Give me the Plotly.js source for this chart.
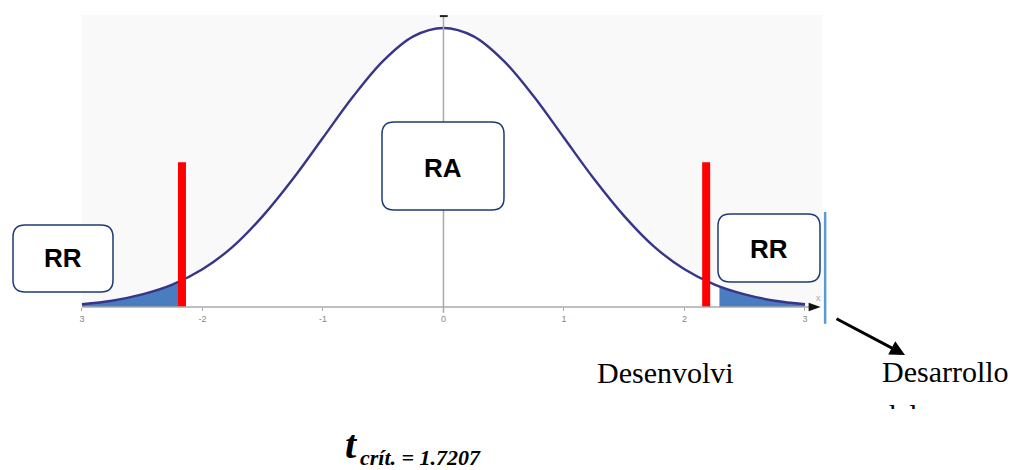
<!DOCTYPE html>
<html>
<head>
<meta charset="utf-8">
<script src="https://cdn.plot.ly/plotly-3.0.1.min.js"></script>
<style>html,body{margin:0;padding:0;background:#fff}#chart{width:1016px;height:470px}</style>
</head>
<body>
<div id="chart"></div>
<script>
// ---- data ----
const curveX = [-3,-2.75,-2.5,-2.25,-2,-1.75,-1.5,-1.25,-1,-0.75,-0.5,-0.25,0,0.25,0.5,0.75,1,1.25,1.5,1.75,2,2.25,2.5,2.75,3];
const curveY = [0.004,0.009,0.018,0.032,0.054,0.086,0.130,0.183,0.242,0.301,0.352,0.387,0.399,0.387,0.352,0.301,0.242,0.183,0.130,0.086,0.054,0.032,0.018,0.009,0.004];
const leftTailX = [-3,-2.75,-2.5,-2.25,-2.2];
const leftTailY = [0.004,0.009,0.018,0.032,0.035];
const rightTailX = [2.29,2.5,2.75,3];
const rightTailY = [0.029,0.018,0.009,0.004];
const critX = [-2.17, 2.18];
const critTop = 0.207;
const tickVals = [-3,-2,-1,0,1,2,3];
const tickText = ["3","-2","-1","0","1","2","3"];
const boxLabels = ["RR","RA","RR"];
const tText = "t";
const tSub = "crít. = 1.7207";

// ---- helpers (pixel -> paper) ----
const W = 1016, H = 470;
const px = x => x / W;
const py = y => 1 - y / H;
function roundRect(x0, y0, x1, y1, r) {
  const X = v => px(v).toFixed(5), Y = v => py(v).toFixed(5);
  return `M${X(x0+r)},${Y(y0)} L${X(x1-r)},${Y(y0)} Q${X(x1)},${Y(y0)} ${X(x1)},${Y(y0+r)} ` +
         `L${X(x1)},${Y(y1-r)} Q${X(x1)},${Y(y1)} ${X(x1-r)},${Y(y1)} L${X(x0+r)},${Y(y1)} ` +
         `Q${X(x0)},${Y(y1)} ${X(x0)},${Y(y1-r)} L${X(x0)},${Y(y0+r)} Q${X(x0)},${Y(y0)} ${X(x0+r)},${Y(y0)} Z`;
}

const curveColor = '#37358a';
const tailColor = '#4a7dbf';
const serif = 'Liberation Serif, Times New Roman, serif';

const traces = [
  {x: curveX, y: curveY, mode: 'lines', line: {width: 0, shape: 'spline'}, fill: 'tozeroy', fillcolor: '#ffffff', hoverinfo: 'skip'},
  {x: leftTailX, y: leftTailY, mode: 'lines', line: {width: 0, shape: 'spline'}, fill: 'tozeroy', fillcolor: tailColor, hoverinfo: 'skip'},
  {x: rightTailX, y: rightTailY, mode: 'lines', line: {width: 0, shape: 'spline'}, fill: 'tozeroy', fillcolor: tailColor, hoverinfo: 'skip'},
  {x: curveX, y: curveY, mode: 'lines', line: {color: curveColor, width: 2.4, shape: 'spline'}, hoverinfo: 'skip'}
];
critX.forEach(c => traces.push({x: [c, c], y: [0, critTop], mode: 'lines', line: {color: '#ff0000', width: 8}, hoverinfo: 'skip'}));

const boxes = [
  {b: [13, 225, 113, 292], c: [63, 258]},
  {b: [382, 122, 504, 210], c: [443, 168]},
  {b: [718, 214, 820, 282], c: [769, 249]}
];

const shapes = [
  {type: 'rect', xref: 'paper', yref: 'paper', x0: px(82), x1: px(822), y0: py(307), y1: py(15), fillcolor: '#f9f9f9', line: {width: 0}, layer: 'below'},
  {type: 'line', xref: 'x', yref: 'y', x0: -3, x1: 3.06, y0: 0, y1: 0, line: {color: '#aaaaaa', width: 1.5}},
  {type: 'path', xref: 'x', yref: 'y', path: 'M3.03,0.006 L3.13,0 L3.03,-0.006 Z', fillcolor: '#111', line: {width: 0}},
  {type: 'line', xref: 'x', yref: 'y', x0: 0, x1: 0, y0: -0.008, y1: 0.416, line: {color: '#aaaaaa', width: 1.5}},
  {type: 'line', xref: 'x', yref: 'y', x0: -0.03, x1: 0.035, y0: 0.416, y1: 0.416, line: {color: '#222', width: 2}},
  {type: 'line', xref: 'x', yref: 'y', x0: 3.167, x1: 3.167, y0: 0.136, y1: -0.024, line: {color: '#5b9bd5', width: 2.5}}
];
boxes.forEach(bx => shapes.push({type: 'path', xref: 'paper', yref: 'paper', path: roundRect(...bx.b, 12), fillcolor: '#ffffff', line: {color: '#1f3a78', width: 1.5}}));

const annotations = boxes.map((bx, i) => ({
  xref: 'paper', yref: 'paper', x: px(bx.c[0]), y: py(bx.c[1]), xanchor: 'center', yanchor: 'middle',
  text: '<b>' + boxLabels[i] + '</b>', showarrow: false,
  font: {family: 'Liberation Sans, Arial, sans-serif', size: 26, color: '#000'}
}));
annotations.push(
  {xref: 'paper', yref: 'paper', x: px(818), y: py(298), xanchor: 'center', yanchor: 'middle', text: 'x', showarrow: false, font: {family: 'Liberation Sans', size: 9, color: '#aaaaaa'}},
  {xref: 'paper', yref: 'paper', x: px(905), y: py(355), ax: -70, ay: -37, text: '', showarrow: true, arrowhead: 2, arrowsize: 1, arrowwidth: 3, arrowcolor: '#000'},
  {xref: 'paper', yref: 'paper', x: px(595), y: py(372), xanchor: 'left', yanchor: 'middle', text: 'Desenvolvi', showarrow: false, font: {family: serif, size: 30, color: '#000'}},
  {xref: 'paper', yref: 'paper', x: px(880), y: py(371), xanchor: 'left', yanchor: 'middle', text: 'Desarrollo', showarrow: false, font: {family: serif, size: 30, color: '#000'}},
  {xref: 'paper', yref: 'paper', x: px(880), y: py(397), xanchor: 'left', yanchor: 'top', text: 'del', height: 11, valign: 'top', borderpad: 0, showarrow: false, font: {family: serif, size: 30, color: '#000'}},
  {xref: 'paper', yref: 'paper', x: px(360), y: py(444), xanchor: 'right', yanchor: 'middle', text: '<b><i>' + tText + '</i></b>', showarrow: false, font: {family: serif, size: 40, color: '#000'}},
  {xref: 'paper', yref: 'paper', x: px(358), y: py(457), xanchor: 'left', yanchor: 'middle', text: '<b><i>' + tSub + '</i></b>', showarrow: false, font: {family: serif, size: 22, color: '#000'}}
);

const layout = {
  width: W, height: H,
  margin: {l: 0, r: 0, t: 0, b: 0},
  paper_bgcolor: '#ffffff', plot_bgcolor: 'rgba(0,0,0,0)',
  showlegend: false,
  xaxis: {range: [-3.680, 4.751], showgrid: false, zeroline: false, showline: false,
          tickmode: 'array', tickvals: tickVals, ticktext: tickText, ticks: 'outside', ticklen: 3, tickcolor: '#aaaaaa', tickwidth: 1,
          tickfont: {family: 'Liberation Sans', size: 9, color: '#888888'},
          anchor: 'free', position: 1 - 307 / 470, fixedrange: true},
  yaxis: {range: [-0.233, 0.439], visible: false, fixedrange: true},
  shapes: shapes,
  annotations: annotations
};

Plotly.newPlot('chart', traces, layout, {displayModeBar: false, staticPlot: true});
</script>
</body>
</html>
